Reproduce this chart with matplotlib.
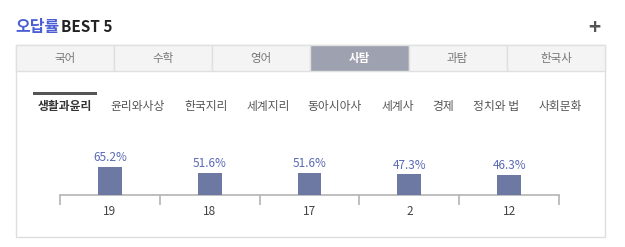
import matplotlib
matplotlib.use("Agg")
import matplotlib.pyplot as plt
from matplotlib.patches import Rectangle

plt.rcParams['font.family'] = ['Noto Sans CJK KR', 'DejaVu Sans']

# Data
questions = ["19", "18", "17", "2", "12"]
wrong_rates = [65.2, 51.6, 51.6, 47.3, 46.3]
main_tabs = ["국어", "수학", "영어", "사탐", "과탐", "한국사"]
active_main = "사탐"
sub_tabs = ["생활과윤리", "윤리와사상", "한국지리", "세계지리", "동아시아사", "세계사", "경제", "정치와 법", "사회문화"]
active_sub = "생활과윤리"

W, H = 625, 247
fig = plt.figure(figsize=(W / 100, H / 100), dpi=100)
fig.patch.set_facecolor("white")

# Decoration layer in pixel coordinates
bg = fig.add_axes([0, 0, 1, 1])
bg.set_xlim(0, W)
bg.set_ylim(H, 0)
bg.axis("off")

# Title
bg.text(15, 27, "오답률", color="#4a5fd4", fontsize=11.5, fontweight="bold", va="center", ha="left")
bg.text(61, 27, "BEST 5", color="#222222", fontsize=11, fontweight="bold", va="center", ha="left")
bg.text(594, 27, "+", color="#555555", fontsize=15, fontweight="bold", va="center", ha="center")

# Outer panel border
bg.add_patch(Rectangle((15.5, 45.5), 589.5, 191.5, fill=False, edgecolor="#dedede", lw=1))

# Main tabs
tab_left, tab_right, tab_top, tab_bot = 15.5, 605, 45.5, 71
tw = (tab_right - tab_left) / len(main_tabs)
for i, name in enumerate(main_tabs):
    x0 = tab_left + i * tw
    active = name == active_main
    bg.add_patch(Rectangle((x0, tab_top), tw, tab_bot - tab_top,
                           facecolor="#9ea2b0" if active else "#f4f4f4",
                           edgecolor="#e0e0e0", lw=1))
    bg.text(x0 + tw / 2, 58.5, name, ha="center", va="center", fontsize=8.3,
            color="white" if active else "#777777",
            fontweight="bold" if active else "normal")

# Sub tabs
sub_x = [65, 138, 206, 268, 335, 398, 443, 496, 560]
for name, x in zip(sub_tabs, sub_x):
    active = name == active_sub
    bg.text(x, 106, name, ha="center", va="center", fontsize=8.5,
            color="#333333" if active else "#555555",
            fontweight="bold" if active else "normal")
    if active:
        bg.add_patch(Rectangle((33, 92), 64, 3, facecolor="#555555", edgecolor="none"))

# Bar chart
base_y, top_y = 195, 140
px_per_pct = 0.434
ax = fig.add_axes([60 / W, (H - base_y) / H, 499 / W, (base_y - top_y) / H])
ax.set_facecolor("none")
xs = list(range(len(questions)))
bars = ax.bar(xs, wrong_rates, width=0.24, color="#6e79a3", zorder=3)
ax.set_xlim(-0.5, len(questions) - 0.5)
ax.set_ylim(0, (base_y - top_y) / px_per_pct)
for b, v in zip(bars, wrong_rates):
    ax.annotate(f"{v}%", (b.get_x() + b.get_width() / 2, v), xytext=(0, 2),
                textcoords="offset points", ha="center", va="bottom",
                fontsize=8.5, color="#5a69b5")

for s in ["top", "left", "right"]:
    ax.spines[s].set_visible(False)
ax.spines["bottom"].set_color("#b4b4b4")
ax.spines["bottom"].set_linewidth(1.2)
ax.set_yticks([])
ax.set_xticks(xs)
ax.set_xticklabels(questions, fontsize=8.5, color="#444444")
ax.tick_params(axis="x", which="major", length=0, pad=7)
ax.set_xticks([i - 0.5 for i in range(len(questions) + 1)], minor=True)
ax.tick_params(axis="x", which="minor", length=7.5, width=1.2, color="#b4b4b4", direction="out")

fig.savefig("out.png", dpi=100, facecolor="white")
